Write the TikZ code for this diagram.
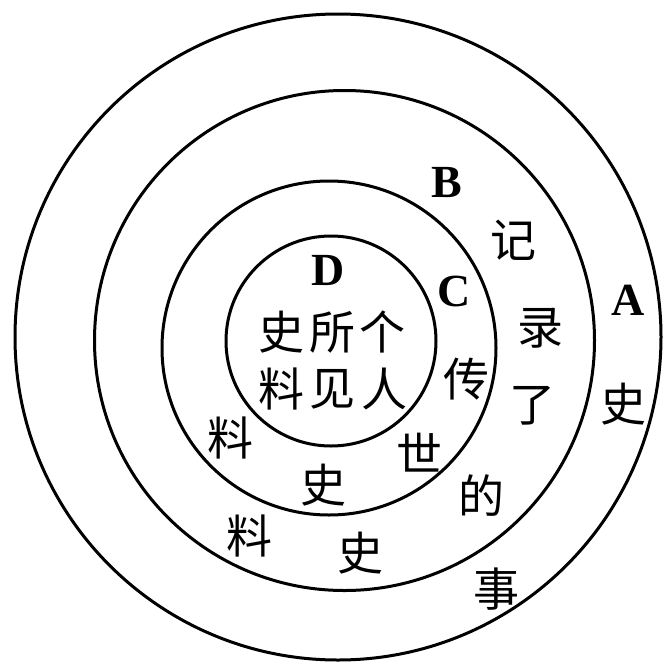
\documentclass[tikz,border=0pt]{standalone}
\usepackage{fontspec}
\setmainfont{Liberation Serif}
\newfontfamily\cjk{Noto Sans CJK SC}
\begin{document}
\begin{tikzpicture}[x=1pt,y=-1pt]
\tikzset{
  ring/.style={draw=black,line width=3pt},
  hanzi/.style={font=\cjk\fontsize{46}{48}\selectfont,inner sep=0pt},
  letter/.style={font=\bfseries\fontsize{46}{48}\selectfont,inner sep=0pt}
}
\useasboundingbox[fill=white] (0,0) rectangle (667,665);
% circles
\draw[ring] (338,337) circle[radius=323];
\draw[ring] (344.5,340.5) circle[radius=250];
\draw[ring] (329,348) circle[radius=167];
\draw[ring] (331,341) circle[radius=105];
% letters
\node[letter] (A) at (628,300) {A};
\node[letter] (B) at (447,183) {B};
\node[letter] (C) at (454,291) {C};
\node[letter] (D) at (328,270) {D};
% D ring
\node[hanzi] (d1) at (281,332) {史};
\node[hanzi] (d2) at (332,332) {所};
\node[hanzi] (d3) at (382,332) {个};
\node[hanzi] (d4) at (281,389) {料};
\node[hanzi] (d5) at (332,389) {见};
\node[hanzi] (d6) at (384,389) {人};
% C ring
\node[hanzi] (c1) at (466,379) {传};
\node[hanzi] (c2) at (419,453) {世};
\node[hanzi] (c3) at (323,485) {史};
\node[hanzi] (c4) at (230,438) {料};
% B ring
\node[hanzi] (b1) at (513,240) {记};
\node[hanzi] (b2) at (540,328) {录};
\node[hanzi] (b3) at (532,406) {了};
\node[hanzi] (b4) at (481,496) {的};
\node[hanzi] (b5) at (496,589) {事};
\node[hanzi] (b6) at (360,553) {史};
\node[hanzi] (b7) at (249,536) {料};
% A ring
\node[hanzi] (a1) at (623,404) {史};
\end{tikzpicture}
\end{document}
